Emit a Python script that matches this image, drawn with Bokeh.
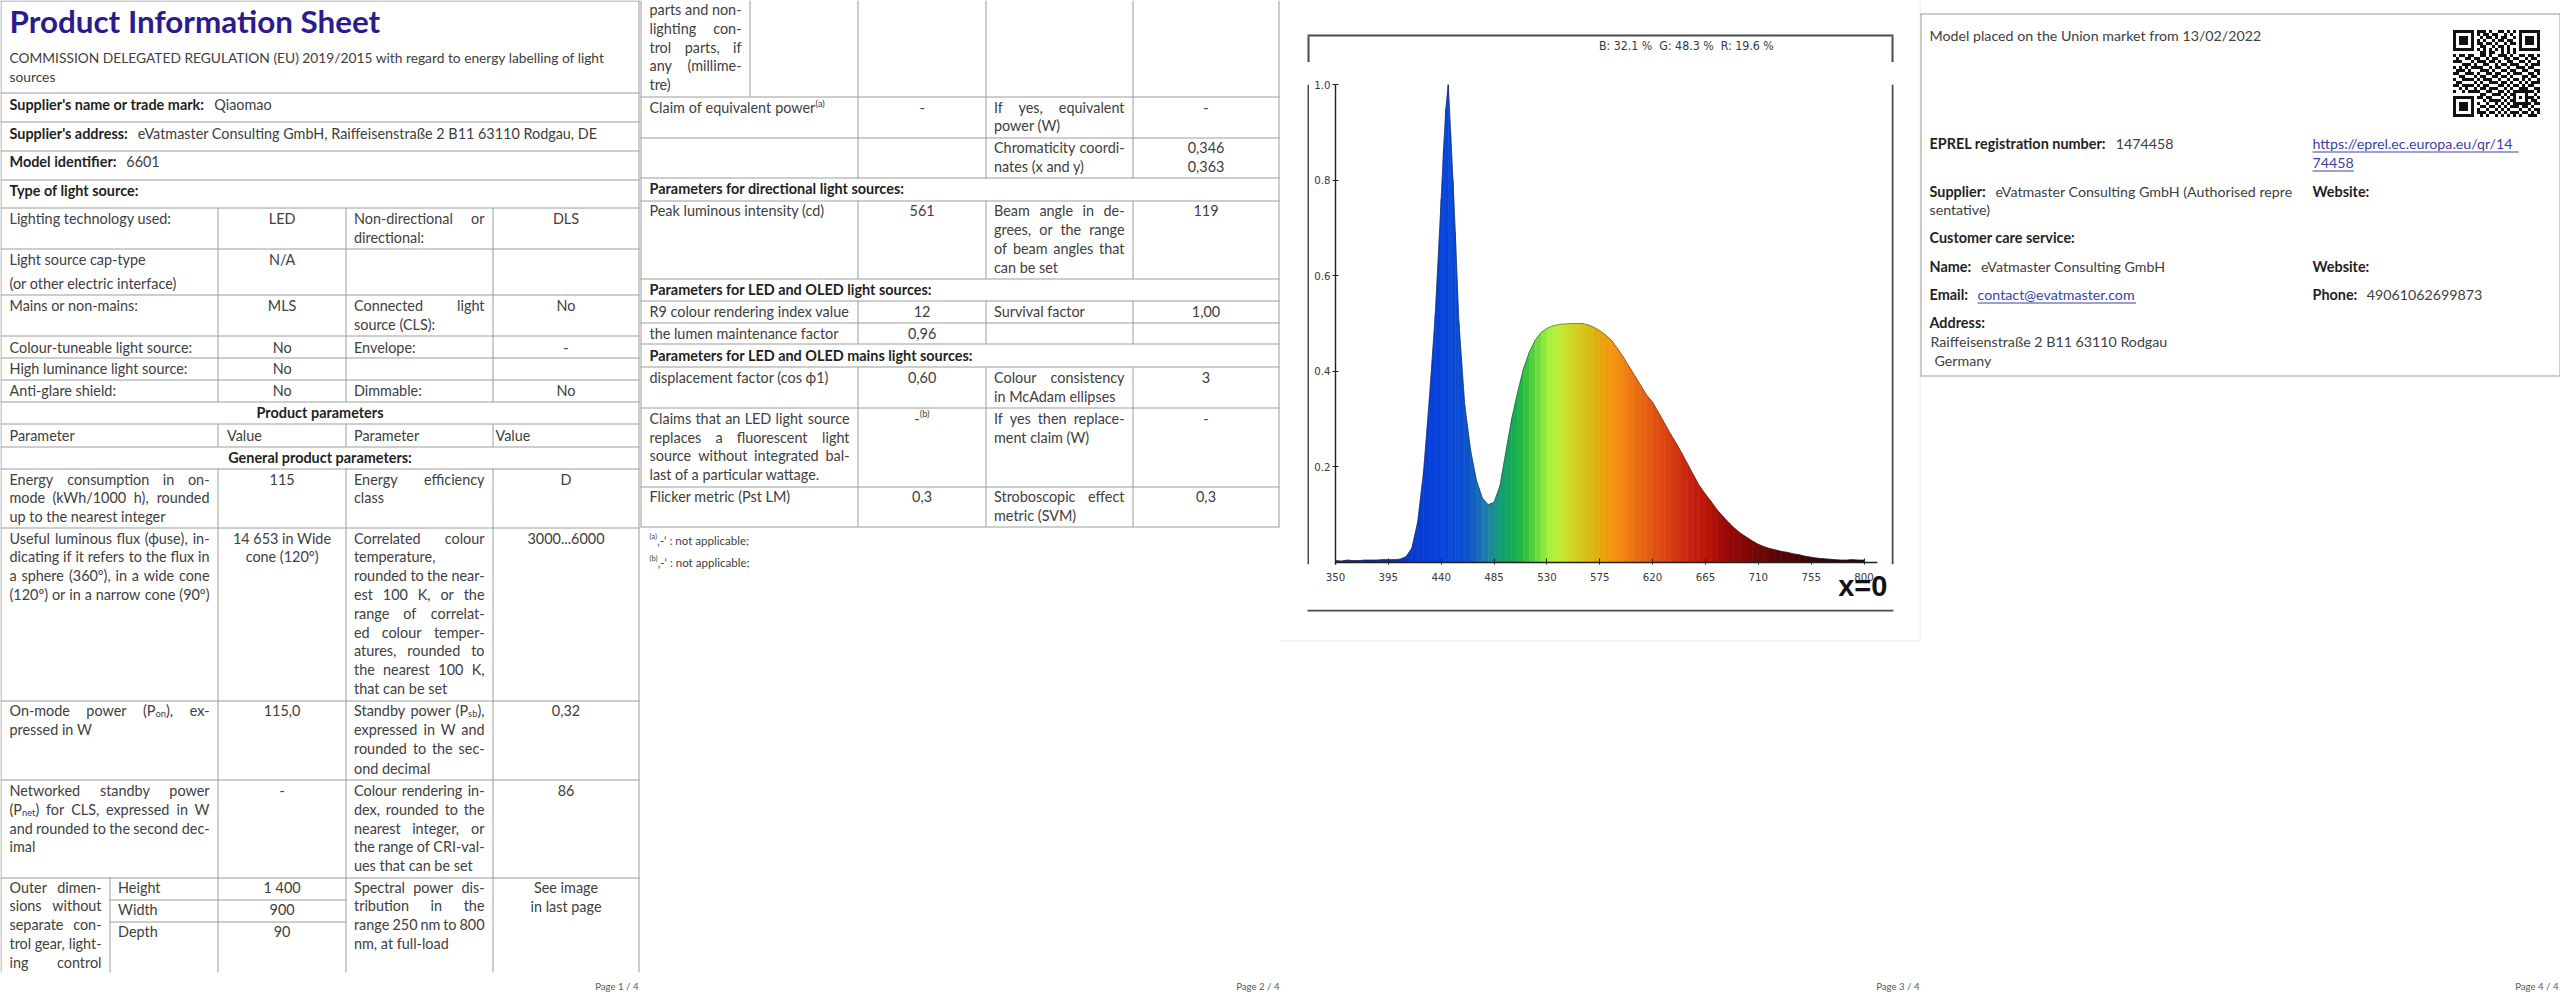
import glob
import os
import re
import struct
import subprocess

from bokeh.core.properties import value
from bokeh.embed import file_html
from bokeh.layouts import column, row
from bokeh.models import ColumnDataSource, FixedTicker, LinearAxis, PrintfTickFormatter, Range1d
from bokeh.plotting import figure
from bokeh.resources import INLINE

# ----------------------------------------------------------------- chart data
wavelength_nm = [350, 355, 360, 365, 370, 375, 380, 385, 390, 395, 400, 405, 410, 415, 420,
                 425, 430, 435, 440, 442, 444, 446, 448, 450, 452, 455, 460, 465, 470, 475,
                 480, 485, 490, 495, 500, 505, 510, 515, 520, 525, 530, 535, 540, 545, 550,
                 555, 560, 565, 570, 575, 580, 585, 590, 595, 600, 605, 610, 615, 620, 625,
                 630, 635, 640, 645, 650, 655, 660, 665, 670, 675, 680, 685, 690, 695, 700,
                 705, 710, 715, 720, 725, 730, 735, 740, 745, 750, 755, 760, 765, 770, 775,
                 780, 785, 790, 795, 800]
relative_power = [0.004, 0.003, 0.005, 0.004, 0.004, 0.005, 0.005, 0.005, 0.006, 0.006, 0.006,
                  0.007, 0.012, 0.030, 0.085, 0.190, 0.345, 0.520, 0.760, 0.865, 0.950, 1.000,
                  0.900, 0.800, 0.690, 0.505, 0.330, 0.235, 0.172, 0.135, 0.121, 0.126, 0.160,
                  0.230, 0.300, 0.355, 0.405, 0.440, 0.465, 0.481, 0.490, 0.495, 0.498, 0.499,
                  0.500, 0.500, 0.500, 0.497, 0.492, 0.485, 0.476, 0.465, 0.448, 0.430, 0.410,
                  0.390, 0.370, 0.350, 0.335, 0.314, 0.292, 0.270, 0.250, 0.228, 0.205, 0.182,
                  0.160, 0.143, 0.127, 0.110, 0.096, 0.083, 0.071, 0.061, 0.053, 0.045, 0.038,
                  0.033, 0.029, 0.026, 0.023, 0.021, 0.018, 0.016, 0.013, 0.011, 0.009, 0.008,
                  0.007, 0.006, 0.005, 0.005, 0.006, 0.005, 0.005]
x_ticks = [350, 395, 440, 485, 530, 575, 620, 665, 710, 755, 800]
y_ticks = [0.2, 0.4, 0.6, 0.8, 1.0]
band_share = "B: 32.1 %  G: 48.3 %  R: 19.6 %"
corner_mark = "x=0"
spectral_anchor_nm = [400, 415, 430, 445, 460, 470, 478, 485, 492, 500, 508, 516, 524, 532, 540,
                      548, 556, 564, 572, 580, 588, 596, 606, 618, 630, 642, 655, 668, 680, 695,
                      715, 740, 770, 800]
spectral_anchor_colors = ["#1a2a9a", "#0a3ad0", "#0640d8", "#0745dc", "#0a4fd0", "#1465c0",
                          "#1e7cb0", "#1a9090", "#12a070", "#14aa55", "#22b845", "#48cc3c",
                          "#78e040", "#a4f03c", "#bcee36", "#ccdd28", "#d4cc1e", "#d8c018",
                          "#dcb012", "#eea00a", "#f59210", "#f08212", "#ea7010", "#e45a10",
                          "#dc4410", "#d03210", "#c42010", "#b41408", "#a00a08", "#880606",
                          "#6a0606", "#4a0404", "#300404", "#220404"]

QR_ROWS = [
    "10100110111010011010110100101",
    "01101001101101100101001011010",
    "11010110010110101100110101101",
    "00111010101001011011001110010",
    "10100101110110100101110001101",
    "01011100011001011010011100110",
    "11001011100110110101100111001",
    "00110101011011001010111000110",
    "10110110011010011101001101101",
    "01001101100101100110110010110",
    "11100010111011010011001101001",
    "00011101001100101101110010111",
    "10101011110010110010011101100",
    "01110100011101001101100110011",
    "11001110100110110010111001101",
    "00110001011001101101000110110",
    "10011110101110010010110101001",
    "01100011010011101101001010111",
    "11011100101100011010110101100",
    "00101011011011100101001110011",
    "10010101100110011010111001101",
    "01101010011001110101100110010",
    "11010110110110001010011101101",
    "00101001001011110101110010110",
    "10110111100100101010001101011",
    "01001000011011010101110110100",
    "11100111100100101010001001011",
    "00011000111011010101110110101",
    "10100111010100101010101001110",
]

# ----------------------------------------------------------------- fonts
def _find_font(file_names, pattern):
    roots = ["/usr/share/fonts", "/usr/local/share/fonts",
             os.path.expanduser("~/.fonts"), os.path.expanduser("~/.local/share/fonts")]
    for name in file_names:
        for r in roots:
            try:
                hits = glob.glob(os.path.join(r, "**", name), recursive=True)
            except Exception:
                hits = []
            if hits:
                return hits[0]
    if pattern:
        try:
            out = subprocess.run(["fc-match", "-f", "%{file}", pattern], capture_output=True,
                                 text=True, timeout=10).stdout.strip()
            if out and os.path.exists(out):
                return out
        except Exception:
            pass
    return None


class FontMetrics:
    def __init__(self, path, fallback_em=0.5):
        self.ok = False
        self.fallback_em = fallback_em
        self.cmap = {}
        if path:
            try:
                self._load(path)
                self.ok = True
            except Exception:
                self.ok = False

    def _load(self, path):
        with open(path, "rb") as fh:
            data = fh.read()
        base = 0
        if data[:4] == b"ttcf":
            base = struct.unpack(">I", data[12:16])[0]

        def H(o):
            return struct.unpack(">H", data[o:o + 2])[0]

        def I(o):
            return struct.unpack(">I", data[o:o + 4])[0]

        tables = {}
        for i in range(H(base + 4)):
            rec = base + 12 + 16 * i
            tables[data[rec:rec + 4].decode("latin-1")] = I(rec + 8)
        self.upem = H(tables["head"] + 18)
        nhm = H(tables["hhea"] + 34)
        hm = tables["hmtx"]
        self.adv = [H(hm + 4 * i) for i in range(nhm)]
        cm = tables["cmap"]
        sub4 = sub12 = None
        for i in range(H(cm + 2)):
            pid = H(cm + 4 + 8 * i)
            off = cm + I(cm + 8 + 8 * i)
            fmt = H(off)
            if fmt == 12 and pid in (0, 3):
                sub12 = off
            elif fmt == 4 and pid in (0, 3):
                sub4 = off
        if sub12 is not None:
            for g in range(I(sub12 + 12)):
                o = sub12 + 16 + 12 * g
                s, e, gid = I(o), I(o + 4), I(o + 8)
                if e - s > 70000:
                    continue
                for c in range(s, e + 1):
                    self.cmap[c] = gid + c - s
        elif sub4 is not None:
            seg2 = H(sub4 + 6)
            ends = sub4 + 14
            starts = ends + seg2 + 2
            deltas = starts + seg2
            ros = deltas + seg2
            for s in range(seg2 // 2):
                e, st = H(ends + 2 * s), H(starts + 2 * s)
                d, ro = H(deltas + 2 * s), H(ros + 2 * s)
                if st == 0xFFFF:
                    continue
                for c in range(st, e + 1):
                    if ro == 0:
                        g = (c + d) & 0xFFFF
                    else:
                        g = H(ros + 2 * s + ro + 2 * (c - st))
                        if g:
                            g = (g + d) & 0xFFFF
                    self.cmap[c] = g

    def em(self, text):
        if not self.ok:
            return self.fallback_em * len(text)
        total = 0.0
        for ch in text:
            g = self.cmap.get(ord(ch), 0)
            if g == 0:
                total += self.fallback_em * self.upem
            else:
                total += self.adv[min(g, len(self.adv) - 1)]
        return total / self.upem

    def width(self, text, size):
        return self.em(text) * size


BODY_FONT = "Lato"
REGM = FontMetrics(_find_font(["Lato-Regular.ttf"], "Lato"))
BOLDM = FontMetrics(_find_font(["Lato-Bold.ttf"], "Lato:bold"))
_narrow = _find_font(["LiberationSansNarrow-Regular.ttf"], None)
if _narrow:
    NARROW_FONT = "Liberation Sans Narrow"
    NARROWM = FontMetrics(_narrow)
else:
    NARROW_FONT = "DejaVu Sans Condensed"
    NARROWM = FontMetrics(_find_font(["DejaVuSansCondensed.ttf"], None), 0.55)
if _find_font(["LiberationSansNarrow-Bold.ttf"], None):
    MARK_FONT, MARK_SIZE = "Liberation Sans Narrow", 30.7
else:
    MARK_FONT, MARK_SIZE = "Liberation Sans", 29.0


def _fit(metrics, pairs, lo, hi):
    sizes = sorted(w / max(metrics.em(t), 1e-6) for t, w in pairs)
    mid = sizes[len(sizes) // 2]
    return round(max(lo, min(hi, mid)), 2)


REGULATION = ["COMMISSION DELEGATED REGULATION (EU) 2019/2015 with regard to energy labelling of light",
              "sources"]
BANNER_TEXT = band_share.replace("  ", "\u00a0 ")

# widths (px) measured on the reference sheet, used to size the fonts
BS = _fit(REGM, [("the lumen maintenance factor", 192.0), ("Peak luminous intensity (cd)", 178.0),
                 ("Colour-tuneable light source:", 183.7), ("R9 colour rendering index value", 200.0),
                 ("High luminance light source:", 179.6), ("Lighting technology used:", 161.6),
                 (REGULATION[0], 599.0)], 12, 18)
REG_SIZE = _fit(REGM, [(REGULATION[0], 599.0)], 12, 18)
BB = _fit(BOLDM, [("Supplier's address:", 118.8), ("Supplier's name or trade mark:", 198.4),
                  ("Model identifier:", 107.3), ("Type of light source:", 130.6),
                  ("Parameters for LED and OLED mains light sources:", 321.6),
                  ("Parameters for directional light sources:", 259.2)], 12, 18)
TITLE_SIZE = _fit(BOLDM, [("Product Information Sheet", 372.6)], 22, 36)
P4S = _fit(REGM, [("Model placed on the Union market from 13/02/2022", 333.9),
                  ("eVatmaster Consulting GmbH", 186.9),
                  ("Raiffeisenstraße 2 B11 63110 Rodgau", 234.7)], 12, 18)
P4B = _fit(BOLDM, [("EPREL registration number:", 175.9), ("Customer care service:", 146.1)], 12, 18)
FOOT_SIZE = _fit(REGM, [("Page 2 / 4", 43.6)], 9, 14)
NOTE_SIZE = _fit(REGM, [(": not applicable;", 79.6)], 9, 15)
AXIS_SIZE = _fit(NARROWM, [("350", 19.5), ("755", 19.5)], 10, 18)
BANNER_SIZE = _fit(NARROWM, [(BANNER_TEXT, 175.5)], 9, 16)
SCRIPT = 0.65

C_TEXT = "#404040"
C_BOLD = "#1f1f1f"
C_GRID = "#9c9c9c"
C_TITLE = "#2d1b8e"
C_LINK = "#3b3fa6"
C_FOOT = "#595959"
C_BOX = "#4a4a4a"
C_AXIS = "#222222"


# ----------------------------------------------------------------- drawing helpers
class Sheet:
    def __init__(self, x0, x1, y0, y1):
        self.fig = figure(width=int(round(x1 - x0)), height=int(round(y1 - y0)),
                          x_range=Range1d(x0, x1), y_range=Range1d(y1, y0),
                          output_backend="svg", toolbar_location=None,
                          x_axis_type=None, y_axis_type=None, min_border=0,
                          outline_line_color=None, background_fill_color="white",
                          border_fill_color="white")
        self.txt = {}
        self.seg = {}
        self.boxes = {}

    def text(self, x, y, s, size, bold=False, color=None, align="left", font=None):
        color = color or (C_BOLD if bold else C_TEXT)
        key = (font or BODY_FONT, round(size, 2), bold, color, align)
        d = self.txt.setdefault(key, ([], [], []))
        d[0].append(x)
        d[1].append(y)
        d[2].append(s)

    @staticmethod
    def _snap(v):
        return int(v) + 0.5

    def hline(self, x0, x1, y, color=C_GRID, w=1):
        d = self.seg.setdefault((color, w), ([], [], [], []))
        yy = self._snap(y)
        d[0].append(x0); d[1].append(yy); d[2].append(x1); d[3].append(yy)

    def vline(self, x, y0, y1, color=C_GRID, w=1):
        d = self.seg.setdefault((color, w), ([], [], [], []))
        xx = self._snap(x)
        d[0].append(xx); d[1].append(y0); d[2].append(xx); d[3].append(y1)

    def rect(self, l, r, t, b, color):
        d = self.boxes.setdefault(color, ([], [], [], []))
        d[0].append(l); d[1].append(r); d[2].append(t); d[3].append(b)

    def render(self):
        for (color, w), (x0, y0, x1, y1) in self.seg.items():
            self.fig.segment(x0=x0, y0=y0, x1=x1, y1=y1, line_color=color, line_width=w)
        for color, (l, r, t, b) in self.boxes.items():
            self.fig.quad(left=l, right=r, top=t, bottom=b, fill_color=color, line_color=None)
        for (font, size, bold, color, align), (xs, ys, ts) in self.txt.items():
            src = ColumnDataSource(dict(x=xs, y=ys, text=ts))
            self.fig.text(x="x", y="y", text="text", source=src, text_font=value(font),
                          text_font_size=f"{size}px",
                          text_font_style="bold" if bold else "normal",
                          text_color=color, text_align=align, text_baseline="middle")
        return self.fig


_TOKEN = re.compile(r"(_\{[^}]*\}|\^\{[^}]*\})")


def _parse(word):
    segs = []
    for part in _TOKEN.split(word):
        if not part:
            continue
        if part.startswith("_{"):
            segs.append((part[2:-1], "sub"))
        elif part.startswith("^{"):
            segs.append((part[2:-1], "sup"))
        else:
            segs.append((part, "n"))
    return segs


def draw_line(sh, x0, x1, y, text, size, bold=False, color=None, justify=False, align="left"):
    m = BOLDM if bold else REGM
    words = [w for w in text.split(" ") if w]
    parsed = [_parse(w) for w in words]
    rich = any(k != "n" for p in parsed for _, k in p)
    if (not justify or len(words) < 2) and not rich:
        x = x0 if align == "left" else (x1 if align == "right" else (x0 + x1) / 2)
        sh.text(x, y, text, size, bold, color, align)
        return

    def seg_w(s, k):
        return m.width(s, size * (SCRIPT if k != "n" else 1.0))

    widths = [sum(seg_w(s, k) for s, k in p) for p in parsed]
    space = m.width(" ", size)
    justified = False
    if justify and len(words) > 1:
        gap = (x1 - x0 - sum(widths)) / (len(words) - 1)
        if gap >= 0.6 * space:
            justified = True
        else:
            gap = space
        start = x0
    else:
        gap = space
        total = sum(widths) + gap * (len(words) - 1)
        if align == "left":
            start = x0
        elif align == "right":
            start = x1 - total
        else:
            start = (x0 + x1) / 2 - total / 2
    x = start
    for i, p in enumerate(parsed):
        last = i == len(parsed) - 1
        if justified and last and all(k == "n" for _, k in p):
            sh.text(x1, y, "".join(s for s, _ in p), size, bold, color, "right")
        else:
            xx = x
            for s, k in p:
                if k == "n":
                    sh.text(xx, y, s, size, bold, color, "left")
                    xx += m.width(s, size)
                else:
                    ss = size * SCRIPT
                    dy = 0.22 * size if k == "sub" else -0.33 * size
                    sh.text(xx, y + dy, s, ss, bold, color, "left")
                    xx += m.width(s, ss)
        x += widths[i] + gap


def para(sh, x0, x1, y0, lh, lines, size=None, bold=False, justify=True, last_just=False):
    size = size or BS
    n = len(lines)
    for i, ln in enumerate(lines):
        j = justify and (i < n - 1 or last_just)
        draw_line(sh, x0, x1, y0 + i * lh, ln, size, bold, justify=j)


def centred(sh, xc, y0, lh, lines, size=None):
    size = size or BS
    for i, ln in enumerate(lines):
        draw_line(sh, xc - 60, xc + 60, y0 + i * lh, ln, size, align="center")


def row4(sh, o, y0, lh, c1, c2, c3, c4, last1=False):
    para(sh, o + 9, o + 209, y0, lh, c1, last_just=last1)
    centred(sh, o + 281.6, y0, lh, c2)
    para(sh, o + 353.5, o + 484, y0, lh, c3)
    centred(sh, o + 565.5, y0, lh, c4)


def label_value(sh, x, y, label, val, size, bsize, gap=9.5, link=False):
    sh.text(x, y, label, bsize, bold=True)
    vx = x + BOLDM.width(label, bsize) + gap
    if link:
        sh.text(vx, y, val, size, color=C_LINK)
        sh.hline(vx, vx + REGM.width(val, size), y + 8.4, color=C_LINK)
    else:
        sh.text(vx, y, val, size)
    return vx


# ----------------------------------------------------------------- pages 1 and 2
sA = Sheet(0, 1280, 0, 1001)

P1_ROWS = [92.7, 121.7, 150, 179, 207.3, 248.3, 294.3, 335, 357.3, 379.3, 401.7, 423.8, 446,
           468, 527.6, 700, 779, 877]
sA.hline(0, 639, 0)
for yy in P1_ROWS:
    sA.hline(0, 639, yy)
sA.vline(0, 0, 972)
sA.vline(638, 0, 972)
for (ya, yb) in [(207.3, 401.7), (423.8, 446), (468, 972)]:
    for xx in (217.5, 345.7, 492):
        sA.vline(xx, ya, yb)
sA.vline(109, 877, 972)
sA.hline(109, 345.7, 899)
sA.hline(109, 345.7, 921)

P2_ROWS = [96.3, 137, 177.8, 200, 278.5, 300, 322, 343.7, 366.7, 407.4, 486, 526.7]
for yy in P2_ROWS:
    sA.hline(640, 1279, yy)
sA.vline(640, 0, 526.7)
sA.vline(1278, 0, 526.7)
for (ya, yb) in [(0, 177.8), (200, 278.5), (300, 343.7), (366.7, 526.7)]:
    for xx in (857.5, 985.7, 1132):
        sA.vline(xx, ya, yb)
sA.vline(749, 0, 96.3)

# page 1 texts
sA.text(9, 20, "Product Information Sheet", TITLE_SIZE, bold=True, color=C_TITLE)
sA.text(9, 56.7, REGULATION[0], REG_SIZE)
sA.text(9, 76, REGULATION[1], REG_SIZE)
label_value(sA, 9, 104, "Supplier's name or trade mark:", "Qiaomao", BS, BB)
label_value(sA, 9, 132.7, "Supplier's address:", "eVatmaster Consulting GmbH, Raiffeisenstraße 2 B11 63110 Rodgau, DE", BS, BB)
label_value(sA, 9, 161.3, "Model identifier:", "6601", BS, BB)
sA.text(9, 190, "Type of light source:", BB, bold=True)

row4(sA, 0, 218.3, 19, ["Lighting technology used:"], ["LED"],
     ["Non-directional or", "directional:"], ["DLS"])
para(sA, 9, 209, 259.3, 23.4, ["Light source cap-type", "(or other electric interface)"], justify=False)
centred(sA, 281.6, 259.3, 19, ["N/A"])
row4(sA, 0, 305, 19, ["Mains or non-mains:"], ["MLS"], ["Connected light", "source (CLS):"], ["No"])
row4(sA, 0, 346.7, 19, ["Colour-tuneable light source:"], ["No"], ["Envelope:"], ["-"])
row4(sA, 0, 368.3, 19, ["High luminance light source:"], ["No"], [], [])
row4(sA, 0, 390, 19, ["Anti-glare shield:"], ["No"], ["Dimmable:"], ["No"])
sA.text(319.5, 411.7, "Product parameters", BB, bold=True, align="center")
sA.text(9, 434.5, "Parameter", BS)
sA.text(226.5, 434.5, "Value", BS)
sA.text(353.5, 434.5, "Parameter", BS)
sA.text(495, 434.5, "Value", BS)
sA.text(319.5, 456.7, "General product parameters:", BB, bold=True, align="center")
row4(sA, 0, 478.5, 18.6,
     ["Energy consumption in on-", "mode (kWh/1000 h), rounded", "up to the nearest integer"],
     ["115"], ["Energy efficiency", "class"], ["D"])
row4(sA, 0, 537.5, 18.8,
     ["Useful luminous flux (ϕuse), in-", "dicating if it refers to the flux in",
      "a sphere (360º), in a wide cone", "(120º) or in a narrow cone (90º)"],
     ["14 653 in Wide", "cone (120°)"],
     ["Correlated colour", "temperature,", "rounded to the near-", "est 100 K, or the",
      "range of correlat-", "ed colour temper-", "atures, rounded to", "the nearest 100 K,",
      "that can be set"],
     ["3000...6000"], last1=True)
row4(sA, 0, 709.6, 19.4, ["On-mode power (P_{on}), ex-", "pressed in W"], ["115,0"],
     ["Standby power (P_{sb}),", "expressed in W and", "rounded to the sec-", "ond decimal"],
     ["0,32"])
row4(sA, 0, 789.7, 18.9,
     ["Networked standby power", "(P_{net}) for CLS, expressed in W",
      "and rounded to the second dec-", "imal"], ["-"],
     ["Colour rendering in-", "dex, rounded to the", "nearest integer, or",
      "the range of CRI-val-", "ues that can be set"], ["86"])
para(sA, 9, 101, 886.6, 18.8, ["Outer dimen-", "sions without", "separate con-",
                                "trol gear, light-", "ing control"], last_just=True)
for name, yy, val in [("Height", 886.6, "1 400"), ("Width", 908.8, "900"), ("Depth", 931, "90")]:
    sA.text(117.6, yy, name, BS)
    sA.text(281.6, yy, val, BS, align="center")
para(sA, 353.5, 484, 886.6, 18.8, ["Spectral power dis-", "tribution in the",
                                    "range 250 nm to 800", "nm, at full-load"])
centred(sA, 565.5, 886.6, 19.1, ["See image", "in last page"])
sA.text(638, 985, "Page 1 / 4", FOOT_SIZE, color=C_FOOT, align="right")

# page 2 texts
para(sA, 649, 741, 9.3, 18.7, ["parts and non-", "lighting con-", "trol parts, if",
                                "any (millime-", "tre)"])
row4(sA, 640, 107.4, 17.8, ["Claim of equivalent power^{(a)}"], ["-"],
     ["If yes, equivalent", "power (W)"], ["-"])
row4(sA, 640, 147.4, 18.6, [], [], ["Chromaticity coordi-", "nates (x and y)"], ["0,346", "0,363"])
sA.text(649, 188.1, "Parameters for directional light sources:", BB, bold=True)
row4(sA, 640, 210.4, 18.8, ["Peak luminous intensity (cd)"], ["561"],
     ["Beam angle in de-", "grees, or the range", "of beam angles that", "can be set"], ["119"])
sA.text(649, 288.9, "Parameters for LED and OLED light sources:", BB, bold=True)
row4(sA, 640, 311, 19, ["R9 colour rendering index value"], ["12"], ["Survival factor"], ["1,00"])
row4(sA, 640, 332.6, 19, ["the lumen maintenance factor"], ["0,96"], [], [])
sA.text(649, 354.8, "Parameters for LED and OLED mains light sources:", BB, bold=True)
row4(sA, 640, 377, 18.6, ["displacement factor (cos ϕ1)"], ["0,60"],
     ["Colour consistency", "in McAdam ellipses"], ["3"])
row4(sA, 640, 417.8, 18.7,
     ["Claims that an LED light source", "replaces a fluorescent light",
      "source without integrated bal-", "last of a particular wattage."],
     ["-^{(b)}"], ["If yes then replace-", "ment claim (W)"], ["-"])
row4(sA, 640, 496.3, 18.5, ["Flicker metric (Pst LM)"], ["0,3"],
     ["Stroboscopic effect", "metric (SVM)"], ["0,3"])
draw_line(sA, 649, 1270, 539.5, "^{(a)}‚-‘ : not applicable;", NOTE_SIZE)
draw_line(sA, 649, 1270, 561.5, "^{(b)}‚-‘ : not applicable;", NOTE_SIZE)
sA.text(1279, 985, "Page 2 / 4", FOOT_SIZE, color=C_FOOT, align="right")
figA = sA.render()

# ----------------------------------------------------------------- page 3 (spectrum)
SPEC_TOP = 62
top3 = Sheet(1280, 1919, 0, SPEC_TOP)
top3.rect(1307, 1893, 34, 36, C_BOX)
top3.rect(1307, 1309, 36, SPEC_TOP, C_BOX)
top3.rect(1891, 1893, 36, SPEC_TOP, C_BOX)
top3.text(1598.4, 45.6, BANNER_TEXT, BANNER_SIZE, color="#3a3a3a", font=NARROW_FONT)
lpad = Sheet(1280, 1309, SPEC_TOP, 609)
lpad.rect(1307, 1309, SPEC_TOP, 609, C_BOX)
rpad = Sheet(1891, 1919, SPEC_TOP, 609)
rpad.rect(1891, 1893, SPEC_TOP, 609, C_BOX)
bot3 = Sheet(1280, 1919, 609, 1001)
bot3.rect(1307, 1893, 609, 611, C_BOX)
bot3.hline(1280, 1919, 640, color="#e4e4e4")
bot3.text(1919, 985, "Page 3 / 4", FOOT_SIZE, color=C_FOOT, align="right")

# frame: x 1335..1891 px, y 84..564 px (value 0 sits at 562 px)
NM_PER_PX = (800 - 350) / 528.5
PX_PER_UNIT = 478.0
X_END = 350 + (1891 - 1335) * NM_PER_PX
AXIS_END_NM = 350 + (1877 - 1335) * NM_PER_PX
Y_START = -2 / PX_PER_UNIT
spec = figure(width=582, height=609 - SPEC_TOP, x_range=Range1d(350, X_END),
              y_range=Range1d(Y_START, 1.0), output_backend="svg", toolbar_location=None,
              min_border_left=26, min_border_right=0, min_border_top=84 - SPEC_TOP,
              min_border_bottom=609 - 564, outline_line_color=None,
              background_fill_color="white", border_fill_color="white")
spec.grid.visible = False


def spectral_colour(nm):
    xs, cs = spectral_anchor_nm, spectral_anchor_colors
    if nm <= xs[0]:
        return cs[0]
    if nm >= xs[-1]:
        return cs[-1]
    for i in range(len(xs) - 1):
        if xs[i] <= nm <= xs[i + 1]:
            t = (nm - xs[i]) / (xs[i + 1] - xs[i])
            a = [int(cs[i][k:k + 2], 16) for k in (1, 3, 5)]
            b = [int(cs[i + 1][k:k + 2], 16) for k in (1, 3, 5)]
            return "#%02x%02x%02x" % tuple(int(round(a[k] + (b[k] - a[k]) * t)) for k in range(3))
    return cs[-1]


band_xs, band_ys, band_cs = [], [], []
for i in range(len(wavelength_nm) - 1):
    x0, x1 = wavelength_nm[i], wavelength_nm[i + 1]
    band_xs.append([x0, x1, x1, x0])
    band_ys.append([relative_power[i], relative_power[i + 1], 0, 0])
    band_cs.append(spectral_colour((x0 + x1) / 2))
spec.patches(xs="xs", ys="ys", fill_color="c", line_color="c", line_width=0.6,
             source=ColumnDataSource(dict(xs=band_xs, ys=band_ys, c=band_cs)))
spec.line(wavelength_nm, relative_power, line_color="#202020", line_width=1, line_alpha=0.45)
# wavelength axis base line (stops a little past 800 nm, as in the sheet)
spec.segment(x0=[x_ticks[0]], y0=[0], x1=[AXIS_END_NM], y1=[0], line_color=C_AXIS, line_width=1.4)

for ax in (spec.xaxis[0], spec.yaxis[0]):
    ax.axis_line_color = C_AXIS
    ax.axis_line_width = 1.4
    ax.major_tick_line_color = C_AXIS
    ax.minor_tick_line_color = None
    ax.major_label_text_font = NARROW_FONT
    ax.major_label_text_font_size = f"{AXIS_SIZE}px"
    ax.major_label_text_color = "#3a3a3a"
spec.xaxis[0].axis_line_color = None
spec.xaxis[0].ticker = FixedTicker(ticks=x_ticks)
spec.xaxis[0].formatter = PrintfTickFormatter(format="%d")
spec.xaxis[0].major_tick_in = 6
spec.xaxis[0].major_tick_out = 0
spec.xaxis[0].major_label_standoff = 8
spec.yaxis[0].ticker = FixedTicker(ticks=y_ticks)
spec.yaxis[0].formatter = PrintfTickFormatter(format="%.1f")
spec.yaxis[0].major_tick_in = 3
spec.yaxis[0].major_tick_out = 3
spec.yaxis[0].major_label_standoff = 2

# the bold "x=0" mark in the lower right corner, carried by a second bottom axis
MARK_AT = 806
mark_axis = LinearAxis(ticker=FixedTicker(ticks=[MARK_AT]),
                       major_label_overrides={MARK_AT: corner_mark},
                       axis_line_color=None, major_tick_line_color=None,
                       minor_tick_line_color=None, major_tick_in=0, major_tick_out=0,
                       major_label_standoff=-14, major_label_text_font=MARK_FONT,
                       major_label_text_font_style="bold",
                       major_label_text_font_size=f"{MARK_SIZE}px",
                       major_label_text_color="#111111")
spec.add_layout(mark_axis, "below")

# ----------------------------------------------------------------- page 4
sB = Sheet(1919, 2560, 0, 1001)
sB.vline(1919, 0, 640, color="#e4e4e4")
sB.hline(1920, 2560, 13.3)
sB.hline(1920, 2560, 375)
sB.vline(1920, 13.3, 375)
sB.vline(2559, 13.3, 375)
sB.text(1929, 35, "Model placed on the Union market from 13/02/2022", P4S)


def qr_matrix(rows, n=29):
    m = [[1 if (j < len(r) and r[j] == "1") else 0 for j in range(n)] for r in rows[:n]]

    def finder(r0, c0):
        for i in range(-1, 8):
            for j in range(-1, 8):
                r, c = r0 + i, c0 + j
                if 0 <= r < n and 0 <= c < n:
                    if 0 <= i <= 6 and 0 <= j <= 6:
                        on = i in (0, 6) or j in (0, 6) or (2 <= i <= 4 and 2 <= j <= 4)
                        m[r][c] = 1 if on else 0
                    else:
                        m[r][c] = 0

    finder(0, 0)
    finder(0, n - 7)
    finder(n - 7, 0)
    for k in range(8, n - 8):
        m[6][k] = 1 - k % 2
        m[k][6] = 1 - k % 2
    for i in range(-2, 3):
        for j in range(-2, 3):
            m[22 + i][22 + j] = 1 if max(abs(i), abs(j)) != 1 else 0
    return m


QX, QY, QM = 2452.5, 29.5, 3.0
for r, line in enumerate(qr_matrix(QR_ROWS)):
    for c, bit in enumerate(line):
        if bit:
            sB.rect(QX + c * QM, QX + (c + 1) * QM, QY + r * QM, QY + (r + 1) * QM, "#111111")

label_value(sB, 1929, 143.3, "EPREL registration number:", "1474458", P4S, P4B)
sB.text(2312, 143.3, "https://eprel.ec.europa.eu/qr/14", P4S, color=C_LINK)
sB.hline(2312, 2312 + REGM.width("https://eprel.ec.europa.eu/qr/14", P4S), 151.7, color=C_LINK)
sB.text(2312, 162.3, "74458", P4S, color=C_LINK)
sB.hline(2312, 2312 + REGM.width("74458", P4S), 170.7, color=C_LINK)
label_value(sB, 1929, 190.7, "Supplier:", "eVatmaster Consulting GmbH (Authorised repre", P4S, P4B)
sB.text(1929, 209.3, "sentative)", P4S)
sB.text(2312, 190.7, "Website:", P4B, bold=True)
sB.text(1929, 237.3, "Customer care service:", P4B, bold=True)
label_value(sB, 1929, 265.7, "Name:", "eVatmaster Consulting GmbH", P4S, P4B)
sB.text(2312, 265.7, "Website:", P4B, bold=True)
label_value(sB, 1929, 294, "Email:", "contact@evatmaster.com", P4S, P4B, link=True)
label_value(sB, 2312, 294, "Phone:", "49061062699873", P4S, P4B)
sB.text(1929, 322.3, "Address:", P4B, bold=True)
sB.text(1930, 341, "Raiffeisenstraße 2 B11 63110 Rodgau", P4S)
sB.text(1934, 360, "Germany", P4S)
sB.text(2558, 985, "Page 4 / 4", FOOT_SIZE, color=C_FOOT, align="right")
figB = sB.render()

mid = column(top3.render(), row(lpad.render(), spec, rpad.render()), bot3.render())
root = row(figA, mid, figB)

with open("out.html", "w") as fh:
    fh.write(file_html(root, INLINE, title="Product Information Sheet"))
